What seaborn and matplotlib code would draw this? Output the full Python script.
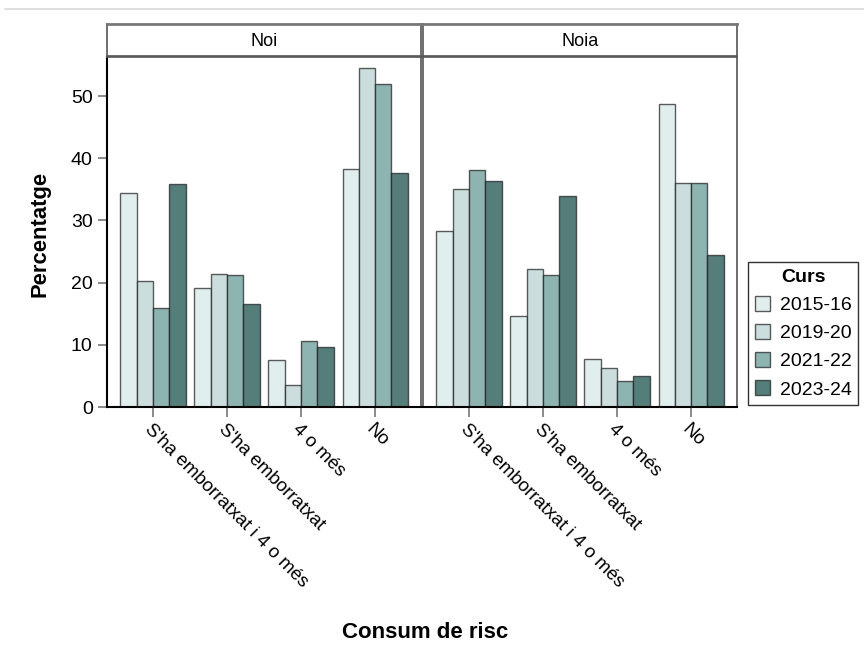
import matplotlib
matplotlib.use("Agg")
import matplotlib.pyplot as plt
import seaborn as sns
import pandas as pd
from matplotlib.patches import Patch
from matplotlib.lines import Line2D

categories = ["S'ha emborratxat i 4 o més", "S'ha emborratxat", "4 o més", "No"]
years = ["2015-16", "2019-20", "2021-22", "2023-24"]
panels = ["Noi", "Noia"]
noi_values = {
    "2015-16": [34.5, 19.1, 7.6, 38.3],
    "2019-20": [20.2, 21.4, 3.6, 54.6],
    "2021-22": [15.9, 21.2, 10.6, 52.0],
    "2023-24": [35.8, 16.6, 9.6, 37.6],
}
noia_values = {
    "2015-16": [28.3, 14.7, 7.8, 48.8],
    "2019-20": [35.0, 22.2, 6.3, 36.0],
    "2021-22": [38.1, 21.2, 4.2, 36.0],
    "2023-24": [36.4, 33.9, 5.0, 24.4],
}
colors = ["#E1EEEE", "#CBDDDC", "#8DB4B1", "#557E7B"]

rows = []
for panel, vals in zip(panels, [noi_values, noia_values]):
    for y in years:
        for c, v in zip(categories, vals[y]):
            rows.append({"Sexe": panel, "Consum": c, "Curs": y, "Percentatge": v})
df = pd.DataFrame(rows)

sns.set_theme(style="white", rc={"text.color": "black", "axes.labelcolor": "black",
                                 "xtick.color": "black", "ytick.color": "black"})
plt.rcParams["font.family"] = ["Liberation Sans", "DejaVu Sans"]

W, H = 864, 653
fig = plt.figure(figsize=(W / 100, H / 100), dpi=100)

def fx(px):
    return px / W

def fy(py):
    return 1 - py / H

left_x = [107, 423]
pw = 314
top, bot = 57, 407
edge = (0.1, 0.1, 0.1, 0.7)
for i, panel in enumerate(panels):
    ax = fig.add_axes([fx(left_x[i]), fy(bot), fx(pw), (bot - top) / H])
    sub = df[df["Sexe"] == panel]
    sns.barplot(data=sub, x="Consum", y="Percentatge", hue="Curs", order=categories,
                hue_order=years, palette=colors, width=0.88, gap=0,
                edgecolor=edge, linewidth=1.0, ax=ax, legend=False, errorbar=None,
                saturation=1)
    ax.set_ylim(0, 56.3)
    ax.set_xlim(-0.62, 3.62)
    ax.set_xlabel("")
    ax.set_ylabel("")
    for s in ["top", "right"]:
        ax.spines[s].set_color("#555555")
        ax.spines[s].set_linewidth(1.2)
    ax.spines["bottom"].set_color("black")
    ax.spines["bottom"].set_linewidth(1.5)
    ax.spines["left"].set_color("black" if i == 0 else "#555555")
    ax.spines["left"].set_linewidth(1.5 if i == 0 else 1.2)
    ax.tick_params(axis="x", bottom=True, length=7.2, width=1.2, color="#777777",
                   labelsize=13.5, pad=3, labelcolor="black")
    ax.set_xticks(range(4))
    ax.set_xticklabels(categories, rotation=-45, ha="left", va="top",
                       rotation_mode="anchor")
    if i == 0:
        ax.set_yticks([0, 10, 20, 30, 40, 50])
        ax.tick_params(axis="y", left=True, length=6.5, width=1.2, color="#777777",
                       labelsize=14, pad=3.8, labelcolor="black")
    else:
        ax.set_yticks([])

    # strip
    sax = fig.add_axes([fx(left_x[i]), fy(56), fx(pw), 32 / H])
    sax.set_xticks([])
    sax.set_yticks([])
    for s in sax.spines.values():
        s.set_color("#555555")
        s.set_linewidth(1.2)
    sax.spines["top"].set_color("#777777")
    sax.spines["top"].set_linewidth(2)
    sax.text(0.5, 0.45, panel, ha="center", va="center", fontsize=13,
             color="black", transform=sax.transAxes)

fig.text(fx(40), fy(234), "Percentatge", rotation=90, ha="center", va="center",
         fontsize=15.8, fontweight="bold", color="black")
fig.text(fx(425), fy(632), "Consum de risc", ha="center", va="center",
         fontsize=16, fontweight="bold", color="black")

handles = [Patch(facecolor=c, edgecolor=edge, linewidth=1.0) for c in colors]
leg = fig.legend(handles, years, title="Curs", loc="upper left",
                 bbox_to_anchor=(fx(748), fy(262)), frameon=True, fancybox=False,
                 edgecolor="black", fontsize=14, title_fontsize=14,
                 handlelength=0.78, handleheight=0.78, labelspacing=0.52,
                 borderpad=0.35, handletextpad=0.5, borderaxespad=0)
leg.get_title().set_fontweight("bold")
leg.get_frame().set_linewidth(1.0)

fig.add_artist(Line2D([fx(5), 1], [fy(9), fy(9)], color="#d9d9d9", linewidth=1.2))

fig.savefig("out.png", dpi=100, facecolor="white")
